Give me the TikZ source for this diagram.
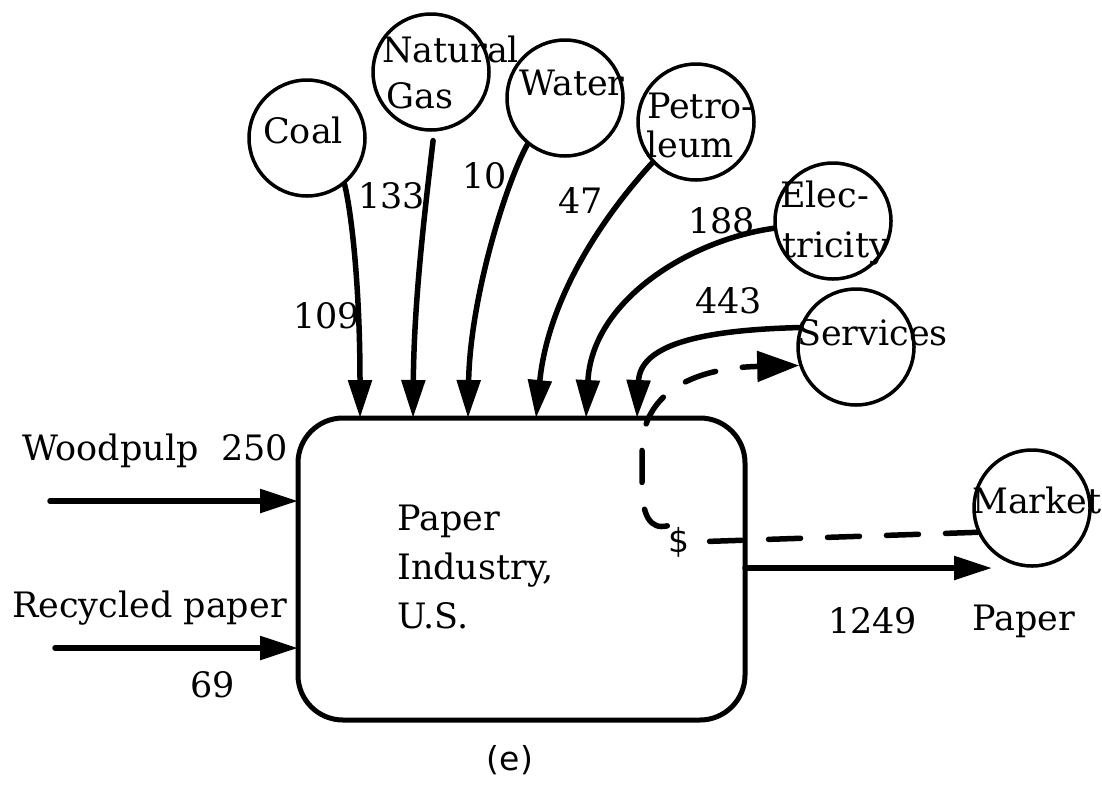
\documentclass[tikz,border=0pt]{standalone}
\usepackage{fontspec}
\setmainfont{DejaVu Serif}
\setsansfont{DejaVu Sans}
\usetikzlibrary{arrows.meta}
\begin{document}
\begin{tikzpicture}[x=1pt,y=-1pt,
  txt/.style={font=\fontsize{35}{49}\selectfont, inner sep=0pt, anchor=base west},
  sanstxt/.style={font=\sffamily\fontsize{33}{40}\selectfont, inner sep=0pt},
  src/.style={circle, draw, line width=3.5pt, minimum size=116pt, inner sep=0pt},
  flow/.style={line width=5.5pt, line cap=round, -{Triangle[length=38pt,width=23pt]}},
  money/.style={line width=5.5pt, line cap=round, dash pattern=on 32pt off 27pt},
  moneyarrow/.style={money, -{Triangle[length=42pt,width=30pt]}}]
\useasboundingbox (0,0) rectangle (1102,793);

% main box
\node[draw, line width=5pt, rounded corners=45pt, minimum width=447pt,
      minimum height=302pt, inner sep=0pt] (box) at (521.5,569) {};
\node[txt, align=left] (boxtext) at (397,628) {Paper\\Industry,\\U.S.};
\node[sanstxt, anchor=base] (caption) at (510,770) {(e)};

% source circles
\node[src] (coal) at (307,138) {};
\node[src] (gas) at (431,72) {};
\node[src] (water) at (565,98) {};
\node[src] (petro) at (696,122) {};
\node[src] (elec) at (833,221) {};
\node[src] (serv) at (856,347) {};
\node[src] (market) at (1032,508) {};

% circle texts
\node[txt] (coalT) at (263,143) {Coal};
\node[txt] (gasT1) at (382,62) {Natural};
\node[txt] (gasT2) at (386,108) {Gas};
\node[txt] (waterT) at (519,95) {Water};
\node[txt] (petroT1) at (647,118) {Petro-};
\node[txt] (petroT2) at (646,157) {leum};
\node[txt] (elecT1) at (780,207) {Elec-};
\node[txt] (elecT2) at (782,257) {tricity};
\node[txt] (servT) at (797,345) {Services};
\node[txt] (marketT) at (972,513) {Market};

% end points on the box
\coordinate (t1) at (360,418);
\coordinate (t2) at (413,418);
\coordinate (t3) at (468,418);
\coordinate (t4) at (536,418);
\coordinate (t5) at (586,418);
\coordinate (t6) at (637,418);
\coordinate (wpS) at (50,501);
\coordinate (wpE) at (298,501);
\coordinate (rpS) at (55,648);
\coordinate (rpE) at (298,648);
\coordinate (outS) at (745,568);
\coordinate (outE) at (992,568);

% flows into the box
\draw[flow] (coal.-51) .. controls (352,215) and (360,290) .. (t1);
\draw[flow, shorten <=9pt] (gas.-87) .. controls (425,210) and (414,300) .. (t2);
\draw[flow] (water.-129) .. controls (505,185) and (470,300) .. (t3);
\draw[flow] (petro.-137) .. controls (600,220) and (548,300) .. (t4);
\draw[flow] (elec.-173) .. controls (690,240) and (592,300) .. (t5);
\draw[flow] (serv.161) .. controls (700,330) and (640,345) .. (t6);
\draw[flow] (wpS) -- (wpE);
\draw[flow] (rpS) -- (rpE);
\draw[flow] (outS) -- (outE);

% money flow
\node[sanstxt, inner sep=1pt] (dollar) at (679,542) {\$};
\draw[money] (market.-156) -- (dollar.east);
\draw[moneyarrow] (dollar.north west) .. controls (650,530) and (642,515) .. (642,485)
  -- (642,450) .. controls (642,395) and (690,368) .. (serv.-162);

% flow values
\node[txt] (v109) at (293,328) {109};
\node[txt] (v133) at (358,208) {133};
\node[txt] (v10) at (462,188) {10};
\node[txt] (v47) at (558,213) {47};
\node[txt] (v188) at (688,233) {188};
\node[txt] (v443) at (695,313) {443};
\node[txt] (wpT) at (22,460) {Woodpulp\ \ 250};
\node[txt] (rpT) at (12,617) {Recycled paper};
\node[txt] (v69) at (190,697) {69};
\node[txt] (v1249) at (828,633) {1249};
\node[txt] (paperT) at (972,630) {Paper};
\end{tikzpicture}
\end{document}
